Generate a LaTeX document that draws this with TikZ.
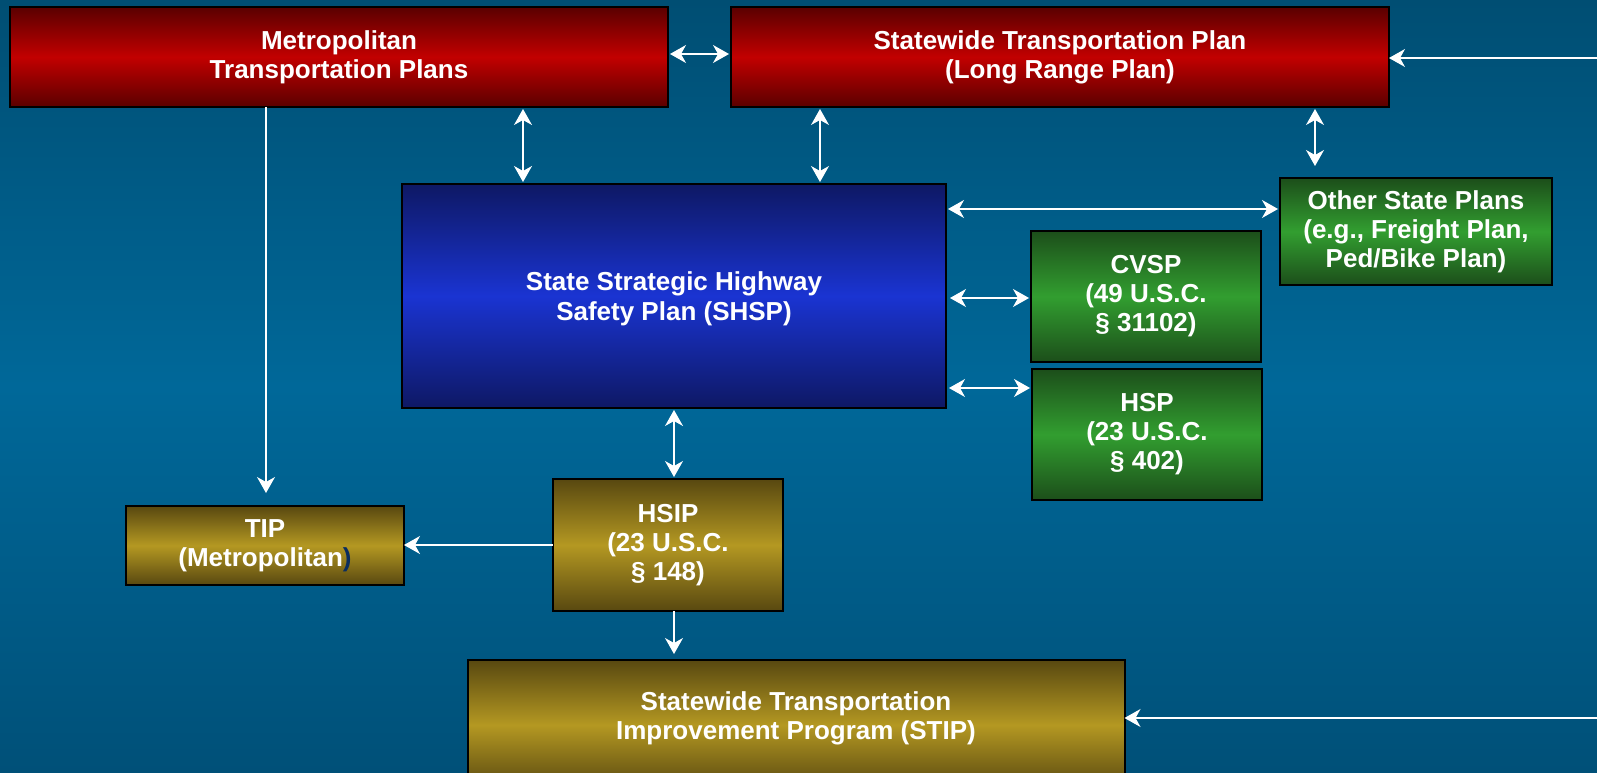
\documentclass[tikz,border=0pt]{standalone}
\usepackage{fontspec}
\setmainfont{Liberation Sans}
\usetikzlibrary{arrows.meta,calc}
\definecolor{bgtop}{RGB}{0,78,115}
\definecolor{bgmid}{RGB}{0,104,153}
\definecolor{bgbot}{RGB}{0,80,120}
\definecolor{redD}{RGB}{90,0,0}
\definecolor{redM}{RGB}{194,0,0}
\definecolor{bluD}{RGB}{14,24,100}
\definecolor{bluM}{RGB}{26,52,210}
\definecolor{grnD}{RGB}{28,78,26}
\definecolor{grnM}{RGB}{50,158,48}
\definecolor{gldD}{RGB}{88,72,16}
\definecolor{gldM}{RGB}{180,152,34}
\definecolor{parenc}{RGB}{10,45,95}
\begin{document}
\begin{tikzpicture}[x=1pt,y=-1pt,
  box/.style={draw=black, line width=2pt, inner sep=0pt, outer sep=0pt, text=white,
    font=\bfseries\fontsize{26}{29}\selectfont, align=center, shading=axis},
  redbox/.style={box, top color=redD, bottom color=redD, middle color=redM},
  blubox/.style={box, top color=bluD, bottom color=bluD, middle color=bluM},
  grnbox/.style={box, top color=grnD, bottom color=grnD, middle color=grnM},
  gldbox/.style={box, top color=gldD, bottom color=gldD, middle color=gldM},
  arr/.style={draw=white, line width=1.3pt, -{Stealth[length=16pt,width=18pt,inset=5pt]}},
  darr/.style={draw=white, line width=1.3pt, {Stealth[length=16pt,width=18pt,inset=5pt]}-{Stealth[length=16pt,width=18pt,inset=5pt]}, shorten >=2pt, shorten <=2pt}
]
\useasboundingbox (0,0) rectangle (1597,773);
\clip (0,0) rectangle (1597,773);
\fill[top color=bgtop, bottom color=bgbot, middle color=bgmid] (0,0) rectangle (1597,773);

\node[redbox, minimum width=658pt, minimum height=100pt] (metro) at (339,57) {Metropolitan\\Transportation Plans};
\node[redbox, minimum width=658pt, minimum height=100pt] (stp) at (1060,57) {Statewide Transportation Plan\\(Long Range Plan)};
\node[blubox, minimum width=544pt, minimum height=224pt,
  label={[text=white, font=\bfseries\fontsize{26}{30}\selectfont, align=center, yshift=-3pt]center:{State Strategic Highway\\Safety Plan (SHSP)}}] (shsp) at (674,296) {};
\node[grnbox, minimum width=272pt, minimum height=107pt] (other) at (1416,231.5) {Other State Plans\\(e.g., Freight Plan,\\Ped/Bike Plan)};
\node[grnbox, minimum width=230pt, minimum height=131pt] (cvsp) at (1146,296.5) {CVSP\\(49 U.S.C.\\\S\ 31102)};
\node[grnbox, minimum width=230pt, minimum height=131pt] (hsp) at (1147,434.5) {HSP\\(23 U.S.C.\\\S\ 402)};
\node[gldbox, minimum width=230pt, minimum height=132pt] (hsip) at (668,545) {HSIP\\(23 U.S.C.\\\S\ 148)};
\node[gldbox, minimum width=278pt, minimum height=79pt] (tip) at (265,545.5) {TIP\\(Metropolitan{\color{parenc})}};
\node[gldbox, minimum width=657pt, minimum height=130pt,
  label={[text=white, font=\bfseries\fontsize{26}{29}\selectfont, align=center, yshift=7pt]center:{Statewide Transportation\\Improvement Program (STIP)}}] (stip) at (796,725) {};

\coordinate (xa) at (523,0);
\coordinate (xb) at (820,0);
\coordinate (xc) at (1315,0);
\coordinate (xd) at (266,0);
\coordinate (xe) at (674,0);
\coordinate (ya) at (0,209);
\coordinate (yb) at (0,298);
\coordinate (yc) at (0,388);
\coordinate (yd) at (0,54);
\coordinate (re1) at (1597,58);
\coordinate (re2) at (1597,718);

\draw[darr] (metro.east |- yd) -- (stp.west |- yd);
\draw[arr] (re1) -- (stp.east |- re1);
\draw[darr] (metro.south -| xa) -- (shsp.north -| xa);
\draw[darr] (stp.south -| xb) -- (shsp.north -| xb);
\draw[darr, shorten >=12pt] (stp.south -| xc) -- (other.north -| xc);
\draw[darr] (shsp.east |- ya) -- (other.west |- ya);
\draw[darr, shorten <=4pt] (shsp.east |- yb) -- (cvsp.west |- yb);
\draw[darr, shorten <=3pt] (shsp.east |- yc) -- (hsp.west |- yc);
\draw[darr] (shsp.south -| xe) -- (hsip.north -| xe);
\draw[arr] (hsip.west) -- (tip.east |- hsip.west);
\draw[arr, shorten >=13pt] (metro.south -| xd) -- (tip.north -| xd);
\draw[arr, shorten >=6pt] (hsip.south -| xe) -- (stip.north -| xe);
\draw[arr] (re2) -- (stip.east |- re2);
\end{tikzpicture}
\end{document}
